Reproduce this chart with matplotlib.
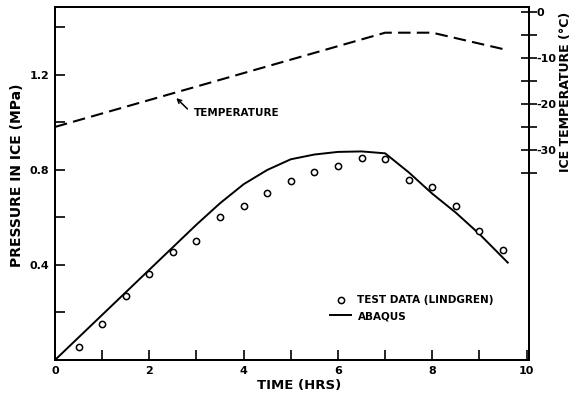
import matplotlib
matplotlib.use("Agg")
import matplotlib.pyplot as plt
from matplotlib.lines import Line2D

plt.rcParams['font.family'] = 'DejaVu Sans'
plt.rcParams['font.weight'] = 'bold'

# --- datos ---
t_test = [0.5, 1.0, 1.5, 2.0, 2.5, 3.0, 3.5, 4.0, 4.5, 5.0,
          5.5, 6.0, 6.5, 7.0, 7.5, 8.0, 8.5, 9.0, 9.5]
p_test = [0.055, 0.152, 0.27, 0.362, 0.455, 0.50, 0.60, 0.65, 0.705, 0.754,
          0.79, 0.817, 0.85, 0.846, 0.758, 0.73, 0.65, 0.543, 0.463]

t_abaqus = [0, 1, 2, 3, 3.5, 4, 4.5, 5, 5.5, 6, 6.5, 7, 7.5, 8, 8.5, 9, 9.6]
p_abaqus = [0, 0.19, 0.38, 0.57, 0.66, 0.74, 0.80, 0.845, 0.865, 0.876,
            0.878, 0.87, 0.79, 0.70, 0.62, 0.53, 0.41]

t_temp = [0, 7, 8, 9.6]
temp = [-25, -4.5, -4.5, -8.3]

x_ticks = [0, 1, 2, 3, 4, 5, 6, 7, 8, 9, 10]
x_labels = ['0', '', '2', '', '4', '', '6', '', '8', '', '10']
p_ticks = [0.2, 0.4, 0.6, 0.8, 1.0, 1.2, 1.4]
p_labels = ['', '0.4', '', '0.8', '', '1.2', '']
temp_ticks = [-35, -30, -25, -20, -15, -10, -5, 0]
temp_labels = ['', '-30', '', '-20', '', '-10', '', '0']

fig = plt.figure(figsize=(5.72, 3.93), dpi=100)
ax = fig.add_axes([55 / 572, 33 / 393, 474 / 572, 353 / 393])

ax.plot(t_abaqus, p_abaqus, color='k', lw=1.4)
ax.plot(t_test, p_test, 'o', mfc='white', mec='k', ms=4.5, mew=1.1)

ax.set_xlim(0, 10.05)
ax.set_ylim(0, 1.486)
ax.set_xticks(x_ticks)
ax.set_xticklabels(x_labels)
ax.set_yticks(p_ticks)
ax.set_yticklabels(p_labels)
ax.tick_params(direction='in', length=7, width=1.2, labelsize=8, pad=4)
for s in ax.spines.values():
    s.set_linewidth(1.4)

ax.set_xlabel('TIME (HRS)', fontsize=9.5, fontweight='bold')
ax.xaxis.set_label_coords(0.515, -0.054)
ax.set_ylabel('PRESSURE IN ICE (MPa)', fontsize=10, fontweight='bold')
ax.yaxis.set_label_coords(-0.066, 0.524)

# eje derecho de temperatura
ax2 = ax.twinx()
ax2.plot(t_temp, temp, color='k', lw=1.5, dashes=(6, 3))
ax2.set_ylim(-75.7, 1.09)
ax2.set_yticks(temp_ticks)
ax2.set_yticklabels(temp_labels)
ax2.tick_params(direction='inout', length=11, width=1.2, labelsize=8, pad=0)
ax2.set_ylabel('ICE TEMPERATURE (°C)', fontsize=9, fontweight='bold')
ax2.yaxis.set_label_coords(1.063, 0.76)
for s in ax2.spines.values():
    s.set_linewidth(1.4)

ax2.text(2.94, -22, 'TEMPERATURE', fontsize=7.5, fontweight='bold',
         ha='left', va='center')
ax2.annotate('', xy=(2.53, -18.3), xytext=(2.85, -21.5),
             arrowprops=dict(arrowstyle='->', lw=1.1, color='k',
                             mutation_scale=7))

handles = [Line2D([], [], ls='none', marker='o', mfc='white', mec='k',
                  ms=4.5, mew=1.1),
           Line2D([], [], color='k', lw=1.4)]
ax.legend(handles, ['TEST DATA (LINDGREN)', 'ABAQUS'], loc='upper left',
          bbox_to_anchor=(0.581, 0.183), frameon=False, fontsize=7.5,
          handlelength=2.0, handletextpad=0.6, borderpad=0,
          borderaxespad=0, labelspacing=0.55)

fig.savefig('out.png', dpi=100)
